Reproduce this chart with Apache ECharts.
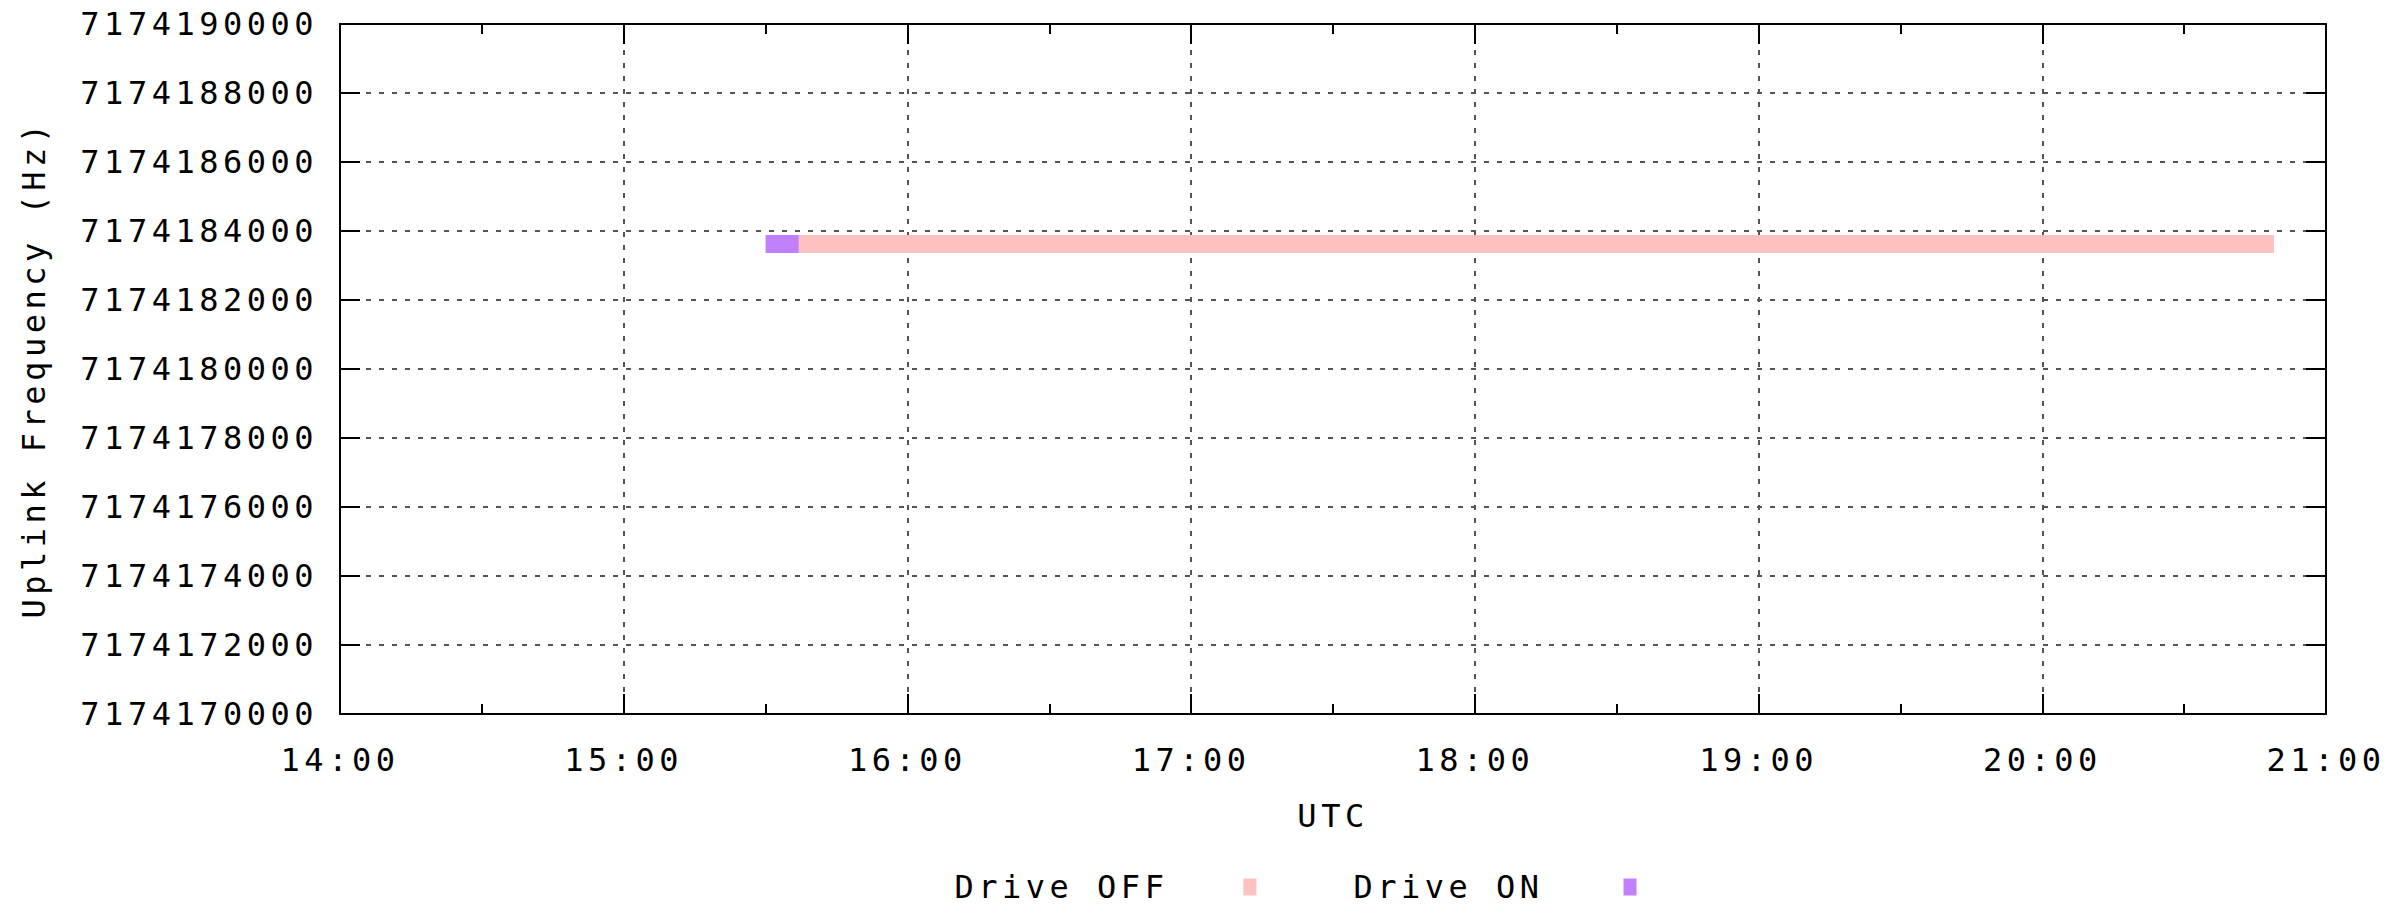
<!DOCTYPE html>
<html>
<head>
<meta charset="utf-8">
<script src="https://cdn.jsdelivr.net/npm/echarts@6/dist/echarts.min.js"></script>
<style>
  html, body { margin: 0; padding: 0; background: #fff; }
  #main { width: 2403px; height: 909px; }
  #main text { letter-spacing: 4.5px; }
</style>
</head>
<body>
<div id="main"></div>
<script>
// ---- data (times in "HH:MM" UTC, frequency in Hz) ----
const seriesNames = ['Drive OFF', 'Drive ON'];
const driveOffTimes = ['15:35', '20:49'];
const driveOffFreq = [7174183620, 7174183620];
const driveOnTimes = ['15:30', '15:37'];
const driveOnFreq = [7174183620, 7174183620];
const xTickLabels = ['14:00', '15:00', '16:00', '17:00', '18:00', '19:00', '20:00', '21:00'];
const yMin = 7174170000, yMax = 7174190000, yStep = 2000;

const FONT = 'DejaVu Sans Mono';
function toMin(t) { const p = t.split(':'); return (+p[0]) * 60 + (+p[1]); }
function fmtTime(v) {
  const h = Math.floor(v / 60), m = Math.round(v % 60);
  return String(h).padStart(2, '0') + ':' + String(m).padStart(2, '0');
}
const xMin = toMin(xTickLabels[0]);
const xMax = toMin(xTickLabels[xTickLabels.length - 1]);

const chart = echarts.init(document.getElementById('main'), null, { renderer: 'svg' });

const axisLine = { show: true, lineStyle: { color: '#000', width: 2 } };
const gridLine = { show: true, lineStyle: { color: '#555', width: 2, type: [5, 8] } };

chart.setOption({
  animation: false,
  backgroundColor: '#fff',
  textStyle: { fontFamily: FONT, color: '#000' },
  grid: { left: 340, right: 77, top: 24, bottom: 195, containLabel: false },
  legend: {
    data: seriesNames,
    left: 990,
    top: 866,
    align: 'right',
    itemGap: 133,
    itemWidth: 13,
    itemHeight: 17,
    icon: 'rect',
    formatter: function (name) {
      return '{t|' + name + '}{' + (name === 'Drive OFF' ? 'a' : 'b') + '| }';
    },
    textStyle: {
      color: '#000', fontFamily: FONT, fontSize: 32,
      rich: {
        t: { fontFamily: FONT, fontSize: 32, color: '#000' },
        a: { width: 70, fontSize: 32 },
        b: { width: 75, fontSize: 32 }
      }
    }
  },
  xAxis: [{
    type: 'value',
    min: xMin, max: xMax, interval: 60,
    position: 'bottom',
    name: 'UTC', nameLocation: 'middle', nameGap: 86,
    nameTextStyle: { fontFamily: FONT, fontSize: 32, color: '#000' },
    axisLine: axisLine,
    axisTick: { show: true, inside: true, length: 20, lineStyle: { color: '#000', width: 2 } },
    minorTick: { show: true, splitNumber: 2, length: 10, lineStyle: { color: '#000', width: 2 } },
    axisLabel: { formatter: fmtTime, margin: 30, fontFamily: FONT, fontSize: 32, color: '#000' },
    splitLine: gridLine
  }, {
    type: 'value',
    min: xMin, max: xMax, interval: 60,
    position: 'top',
    axisLine: axisLine,
    axisTick: { show: true, inside: true, length: 20, lineStyle: { color: '#000', width: 2 } },
    minorTick: { show: true, splitNumber: 2, length: 10, lineStyle: { color: '#000', width: 2 } },
    axisLabel: { show: false },
    splitLine: { show: false }
  }],
  yAxis: [{
    type: 'value',
    min: yMin, max: yMax, interval: yStep,
    position: 'left',
    name: 'Uplink Frequency (Hz)', nameLocation: 'middle', nameGap: 290,
    nameRotate: 90,
    nameTextStyle: { fontFamily: FONT, fontSize: 32, color: '#000' },
    axisLine: axisLine,
    axisTick: { show: true, inside: true, length: 20, lineStyle: { color: '#000', width: 2 } },
    axisLabel: { margin: 22, fontFamily: FONT, fontSize: 32, color: '#000', formatter: v => String(v) },
    splitLine: gridLine
  }, {
    type: 'value',
    min: yMin, max: yMax, interval: yStep,
    position: 'right',
    axisLine: axisLine,
    axisTick: { show: true, inside: true, length: 20, lineStyle: { color: '#000', width: 2 } },
    axisLabel: { show: false },
    splitLine: { show: false }
  }],
  series: [{
    name: 'Drive OFF',
    type: 'line',
    xAxisIndex: 0, yAxisIndex: 0,
    showSymbol: false,
    color: '#ffc0c0',
    lineStyle: { color: '#ffc0c0', width: 18, cap: 'butt' },
    data: driveOffTimes.map((t, i) => [toMin(t), driveOffFreq[i]])
  }, {
    name: 'Drive ON',
    type: 'line',
    xAxisIndex: 0, yAxisIndex: 0,
    showSymbol: false,
    color: '#c080ff',
    lineStyle: { color: '#c080ff', width: 18, cap: 'butt' },
    data: driveOnTimes.map((t, i) => [toMin(t), driveOnFreq[i]])
  }]
});
</script>
</body>
</html>
